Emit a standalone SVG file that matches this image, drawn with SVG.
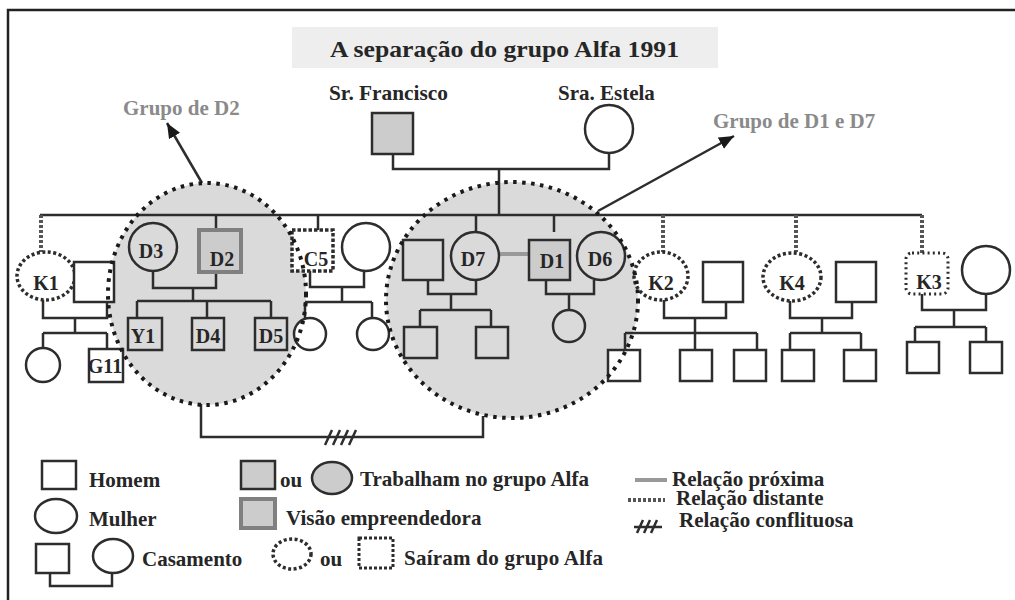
<svg xmlns="http://www.w3.org/2000/svg" width="1015" height="600" viewBox="0 0 1015 600">
<style>
.ln{fill:none;stroke:#2d2d2d;stroke-width:2.5}
.w{fill:#fff;stroke:#2d2d2d;stroke-width:2.5}
.n{fill:none;stroke:#2d2d2d;stroke-width:2.5}
.g{fill:#cccccc;stroke:#2d2d2d;stroke-width:2.5}
.v{fill:#cccccc;stroke:#808080;stroke-width:4}
.dd{fill:#fff;stroke:#2d2d2d;stroke-width:3.5;stroke-dasharray:3 2.5}
.dk{fill:#fff;stroke:#2d2d2d;stroke-width:3;stroke-dasharray:2 3.2}
.dl{fill:none;stroke:#555;stroke-width:4;stroke-dasharray:3 2}
.grp{fill:#dadada}
.grps{fill:none;stroke:#1a1a1a;stroke-width:4;stroke-dasharray:3.5 5.5}
.close{stroke:#999;stroke-width:4;fill:none}
text{font-family:"Liberation Serif","Times New Roman",serif;font-weight:bold;fill:#262626}
.lbl{font-size:20px;text-anchor:middle}
.lg{font-size:21px}
.gt{font-size:21px;fill:#8a8a8a}
</style>
<defs>
<marker id="arr" viewBox="0 0 14 12" refX="14" refY="6" markerWidth="15" markerHeight="13" markerUnits="userSpaceOnUse" orient="auto">
<path d="M0,0 L14,6 L0,12 z" fill="#1a1a1a"/>
</marker>
</defs>
<rect x="0" y="0" width="1015" height="600" fill="#fff"/>
<rect x="8" y="10" width="1100" height="700" fill="#fff" stroke="#222" stroke-width="2.5"/>
<g id="title">
<rect x="292" y="27" width="426" height="41" fill="#eeeeee"/>
<text x="330" y="57" font-size="24" textLength="349" lengthAdjust="spacingAndGlyphs">A separação do grupo Alfa 1991</text>
</g>
<g id="groups-bg">
<ellipse class="grp" cx="207" cy="294" rx="99" ry="111"/>
<ellipse class="grp" cx="512" cy="300" rx="126" ry="118"/>
</g>
<g id="connectors">
<path class="ln" d="M393,154 V169 H609 V153"/>
<path class="ln" d="M499,169 V215"/>
<path class="ln" d="M40,215 H922"/>
<path class="dl" d="M41,215 V252 M663,215 V252 M796,215 V252 M922,215 V253"/>
<path class="ln" d="M216,215 V230 M318,215 V230 M476,215 V232 M554,215 V232"/>
<path class="ln" d="M43,300 V318 H107 V302 M75,318 V333 M43,333 H107 M43,333 V348 M107,333 V349"/>
<path class="ln" d="M153,271 V288 H216 V272 M193,288 V301 M137,301 H271 M137,301 V318 M207,301 V318 M271,301 V318"/>
<path class="ln" d="M310,271 V287 H364 V271 M342,287 V302 M305,302 H372 M305,302 V319 M372,302 V318"/>
<path class="ln" d="M428,280 V294 H476 V280 M451,294 V310 M420,310 H491 M420,310 V327 M491,310 V327"/>
<path class="ln" d="M546,280 V294 H594 V280 M569,294 V310"/>
<path class="close" d="M498,254 H530"/>
<path class="ln" d="M664,300 V318 H726 V302 M695,318 V333 M625,333 H757 M625,333 V350 M695,333 V350 M757,333 V350"/>
<path class="ln" d="M790,301 V318 H852 V302 M822,318 V333 M790,333 H861 M790,333 V350 M861,333 V350"/>
<path class="ln" d="M922,294 V310 H986 V294 M954,310 V327 M915,327 H986 M915,327 V342 M986,327 V342"/>
<path class="ln" d="M201,404 V437 H483 V416"/>
<path class="ln" d="M325,445 L332,430 M333,445 L340,430 M341,445 L348,430 M349,445 L356,430"/>
<line class="ln" x1="202" y1="183" x2="167" y2="123" marker-end="url(#arr)"/>
<line class="ln" x1="598" y1="211" x2="734" y2="136" marker-end="url(#arr)"/>
</g>
<g id="francisco"><rect class="g" x="372" y="113" width="41" height="41"/><text class="lg" x="329" y="100" textLength="119" lengthAdjust="spacingAndGlyphs">Sr. Francisco</text></g>
<g id="estela"><circle class="w" cx="609" cy="129" r="24"/><text class="lg" x="558" y="100">Sra. Estela</text></g>
<g id="k1"><ellipse class="dd" cx="46" cy="276" rx="29" ry="24"/><text class="lbl" x="46" y="290">K1</text></g>
<g id="k1-spouse"><rect class="w" x="74" y="262" width="40" height="40"/></g>
<g id="k1-daughter"><circle class="w" cx="43" cy="365" r="17"/></g>
<g id="g11"><rect class="w" x="89" y="349" width="34" height="33"/><text class="lbl" x="105" y="373">G11</text></g>
<g id="d3"><circle class="n" cx="153" cy="247" r="24"/><text class="lbl" x="151" y="258">D3</text></g>
<g id="d2"><rect class="v" x="199" y="230" width="42" height="42"/><text class="lbl" x="222" y="266">D2</text></g>
<g id="y1"><rect class="n" x="128" y="318" width="34" height="32"/><text class="lbl" x="143" y="343">Y1</text></g>
<g id="d4"><rect class="n" x="192" y="318" width="32" height="32"/><text class="lbl" x="208" y="343">D4</text></g>
<g id="d5"><rect class="n" x="255" y="318" width="32" height="32"/><text class="lbl" x="271" y="343">D5</text></g>
<g id="c5"><rect x="292" y="230" width="41" height="41" fill="#fff" stroke="#2d2d2d" stroke-width="3.5" stroke-dasharray="3.5 2"/><text class="lbl" x="316" y="266">C5</text></g>
<g id="c5-wife"><circle class="w" cx="366" cy="247" r="24"/></g>
<g id="c5-child1"><circle class="w" cx="310" cy="334" r="16"/></g>
<g id="c5-child2"><circle class="w" cx="373" cy="334" r="16"/></g>
<g id="d7-husband"><rect class="n" x="403" y="240" width="40" height="40"/></g>
<g id="d7"><circle class="n" cx="475" cy="256" r="24"/><text class="lbl" x="473" y="266">D7</text></g>
<g id="d1"><rect class="g" x="529" y="240" width="41" height="40"/><text class="lbl" x="552" y="268">D1</text></g>
<g id="d6"><circle class="n" cx="601" cy="256" r="24"/><text class="lbl" x="600" y="266">D6</text></g>
<g id="d7-child1"><rect class="n" x="404" y="327" width="33" height="31"/></g>
<g id="d7-child2"><rect class="n" x="476" y="327" width="32" height="31"/></g>
<g id="d1-child"><circle class="n" cx="569" cy="326" r="16"/></g>
<g id="k2"><ellipse class="dd" cx="661" cy="276" rx="27" ry="24"/><text class="lbl" x="661" y="290">K2</text></g>
<g id="k2-spouse"><rect class="w" x="703" y="262" width="40" height="40"/></g>
<g id="k2-child1"><rect class="w" x="608" y="350" width="32" height="31"/></g>
<g id="k2-child2"><rect class="w" x="680" y="350" width="32" height="31"/></g>
<g id="k2-child3"><rect class="w" x="734" y="350" width="32" height="31"/></g>
<g id="k4"><ellipse class="dd" cx="792" cy="277" rx="29" ry="24"/><text class="lbl" x="792" y="290">K4</text></g>
<g id="k4-spouse"><rect class="w" x="836" y="262" width="40" height="40"/></g>
<g id="k4-child1"><rect class="w" x="782" y="350" width="32" height="31"/></g>
<g id="k4-child2"><rect class="w" x="844" y="350" width="32" height="31"/></g>
<g id="k3"><rect class="dk" x="906" y="253" width="42" height="41" rx="6"/><text class="lbl" x="929" y="289">K3</text></g>
<g id="k3-wife"><circle class="w" cx="986" cy="270" r="24"/></g>
<g id="k3-child1"><rect class="w" x="907" y="342" width="32" height="31"/></g>
<g id="k3-child2"><rect class="w" x="970" y="342" width="32" height="31"/></g>
<g id="group-d2"><ellipse class="grps" cx="207" cy="294" rx="99" ry="111"/><text class="gt" x="123" y="115">Grupo de D2</text></g>
<g id="group-d1d7"><ellipse class="grps" cx="512" cy="300" rx="126" ry="118"/><text class="gt" x="713" y="128">Grupo de D1 e D7</text></g>
<g id="legend">
<rect class="w" x="42" y="461" width="34" height="28"/>
<text class="lg" x="89" y="487">Homem</text>
<ellipse class="w" cx="56" cy="516" rx="21" ry="17"/>
<text class="lg" x="89" y="526">Mulher</text>
<rect class="w" x="36" y="544" width="33" height="29"/>
<ellipse class="w" cx="113" cy="556" rx="20" ry="17"/>
<path class="ln" d="M50,573 V586 H112 V573"/>
<text class="lg" x="142" y="566">Casamento</text>
<rect class="g" x="241" y="461" width="34" height="28"/>
<text class="lg" x="280" y="487">ou</text>
<ellipse class="g" cx="332" cy="478" rx="20" ry="16"/>
<text class="lg" x="360" y="486">Trabalham no grupo Alfa</text>
<rect class="v" x="241" y="499" width="34" height="29"/>
<text class="lg" x="286" y="525">Visão empreendedora</text>
<ellipse class="dd" cx="292" cy="554" rx="19" ry="15"/>
<text class="lg" x="320" y="566">ou</text>
<rect x="359" y="538" width="34" height="30" fill="#fff" stroke="#2d2d2d" stroke-width="3" stroke-dasharray="3 2"/>
<text class="lg" x="404" y="565" textLength="199" lengthAdjust="spacing">Saíram do grupo Alfa</text>
<path class="close" d="M635,480 H667"/>
<text class="lg" x="672" y="486">Relação próxima</text>
<path class="dl" d="M628,500 H665"/>
<text class="lg" x="676" y="505">Relação distante</text>
<path class="ln" d="M634,527 H662 M637,533 L643,520 M644,533 L650,520 M651,533 L657,520"/>
<text class="lg" x="679" y="527">Relação conflituosa</text>
</g>
</svg>
